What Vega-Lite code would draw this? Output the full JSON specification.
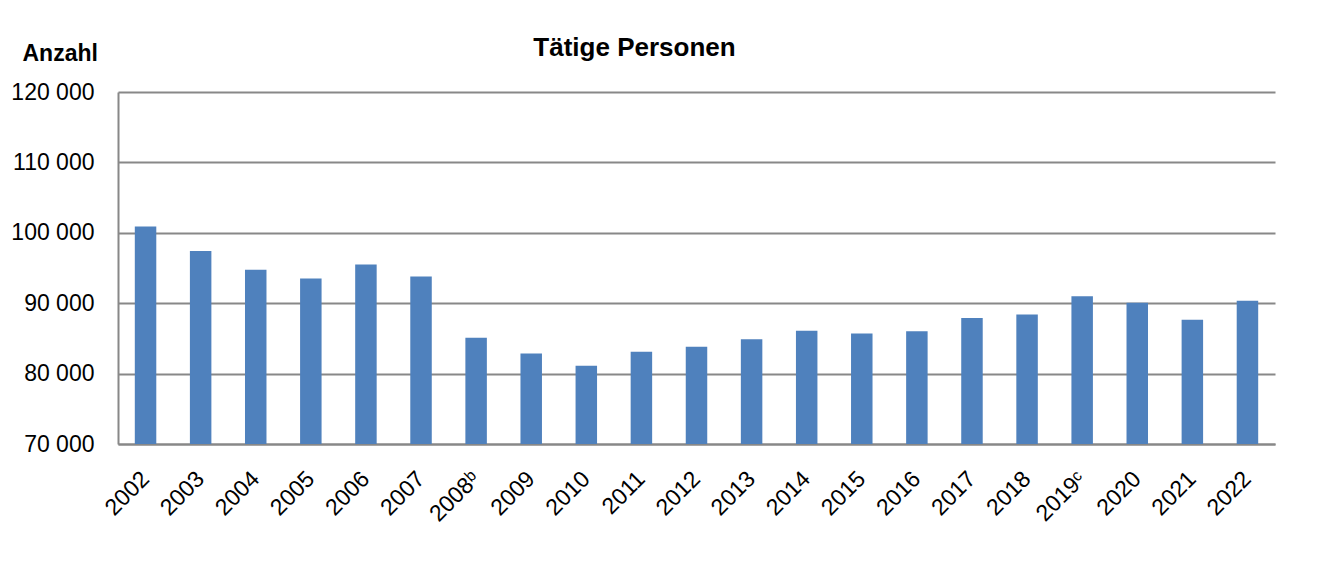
{
  "$schema": "https://vega.github.io/schema/vega-lite/v6.json",
  "autosize": "none",
  "padding": {"left": 118, "top": 92, "right": 44, "bottom": 131},
  "width": 1157,
  "height": 352,
  "background": "white",
  "title": {
    "text": "Tätige Personen",
    "font": "Liberation Sans",
    "fontSize": 26,
    "fontWeight": "bold",
    "color": "black",
    "anchor": "middle",
    "frame": "group",
    "baseline": "alphabetic",
    "offset": -40,
    "dx": -62
  },
  "data": {
    "values": [
      {"jahr": "2002", "anzahl": 100900},
      {"jahr": "2003", "anzahl": 97400},
      {"jahr": "2004", "anzahl": 94750},
      {"jahr": "2005", "anzahl": 93500},
      {"jahr": "2006", "anzahl": 95500},
      {"jahr": "2007", "anzahl": 93800},
      {"jahr": "2008ᵇ", "anzahl": 85100},
      {"jahr": "2009", "anzahl": 82850},
      {"jahr": "2010", "anzahl": 81100},
      {"jahr": "2011", "anzahl": 83100},
      {"jahr": "2012", "anzahl": 83800},
      {"jahr": "2013", "anzahl": 84880},
      {"jahr": "2014", "anzahl": 86100},
      {"jahr": "2015", "anzahl": 85700},
      {"jahr": "2016", "anzahl": 86000},
      {"jahr": "2017", "anzahl": 87900},
      {"jahr": "2018", "anzahl": 88400},
      {"jahr": "2019ᶜ", "anzahl": 91000},
      {"jahr": "2020", "anzahl": 90060},
      {"jahr": "2021", "anzahl": 87640},
      {"jahr": "2022", "anzahl": 90340}
    ]
  },
  "mark": {"type": "bar", "color": "#4F81BD", "clip": true},
  "encoding": {
    "x": {
      "field": "jahr",
      "type": "nominal",
      "sort": null,
      "scale": {"paddingInner": 0.61, "paddingOuter": 0.305},
      "axis": {
        "title": null,
        "labelAngle": -45,
        "labelAlign": "right",
        "labelBaseline": "middle",
        "labelPadding": 31,
        "labelFontSize": 23,
        "labelFont": "Liberation Sans",
        "labelColor": "black",
        "ticks": false,
        "domainColor": "#888888",
        "domainWidth": 2,
        "grid": false
      }
    },
    "y": {
      "field": "anzahl",
      "type": "quantitative",
      "scale": {"domain": [70000, 120000], "nice": false, "zero": false},
      "axis": {
        "title": "Anzahl",
        "titleAngle": 0,
        "titleAlign": "left",
        "titleBaseline": "alphabetic",
        "titleX": -96,
        "titleY": -32,
        "titleFont": "Liberation Sans",
        "titleFontSize": 23,
        "titleFontWeight": "bold",
        "titleColor": "black",
        "values": [70000, 80000, 90000, 100000, 110000, 120000],
        "labelExpr": "replace(format(datum.value, ',d'), ',', ' ')",
        "labelFont": "Liberation Sans",
        "labelFontSize": 23,
        "labelColor": "black",
        "labelPadding": 24,
        "labelBaseline": "middle",
        "ticks": false,
        "domainColor": "#888888",
        "domainWidth": 2,
        "grid": true,
        "gridColor": "#888888",
        "gridWidth": 2
      }
    }
  },
  "config": {
    "view": {"stroke": null}
  }
}
